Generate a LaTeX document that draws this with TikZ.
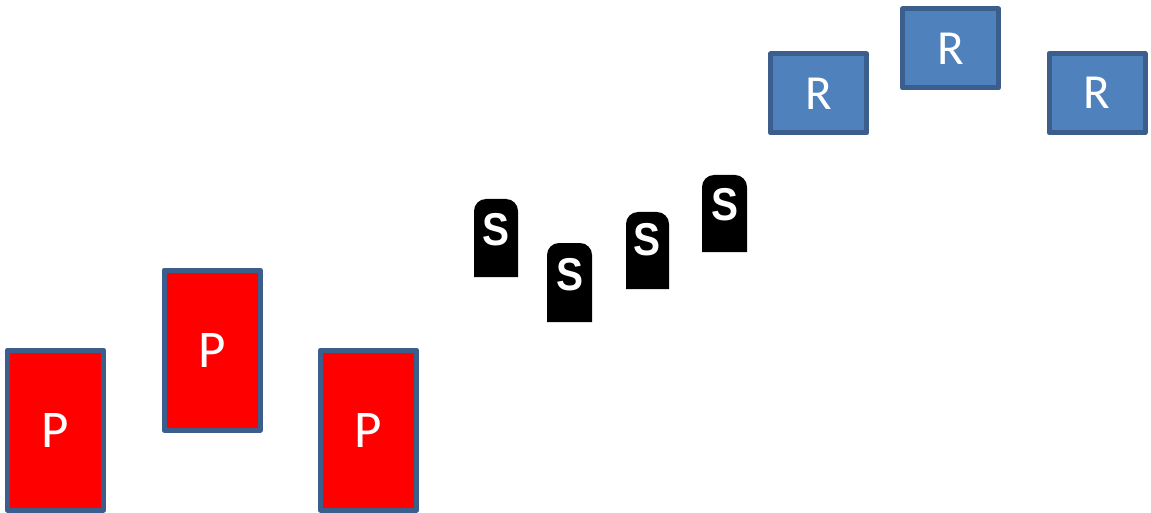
\documentclass[tikz,border=0pt]{standalone}
\usepackage{fontspec}
\setmainfont{Carlito}
\newfontfamily\stonefont{Liberation Sans}
\definecolor{pfill}{HTML}{FF0000}
\definecolor{rfill}{HTML}{4F81BD}
\definecolor{edge}{HTML}{3B5E8C}
\begin{document}
\begin{tikzpicture}[x=1pt,y=1pt,
  pbox/.style={draw=edge, line width=5pt, fill=pfill, line join=round, minimum width=96pt, minimum height=160pt, inner sep=0pt, text=white, font=\fontsize{53}{53}\selectfont},
  rbox/.style={draw=edge, line width=5pt, fill=rfill, line join=round, minimum width=96pt, minimum height=79pt, inner sep=0pt, text=white, font=\fontsize{49}{49}\selectfont},
  stext/.style={text=white, inner sep=0pt, xscale=0.88, font=\stonefont\bfseries\fontsize{46}{46}\selectfont},
  stone/.style={fill=black}
]
\useasboundingbox (0,0) rectangle (1151,-513);
% P boxes
\node[pbox] (p1) at (55.5,-430) {P};
\node[pbox] (p2) at (212,-350) {P};
\node[pbox] (p3) at (368.5,-430) {P};
% R boxes
\node[rbox] (r1) at (818.5,-93.5) {R};
\node[rbox] (r2) at (950.5,-48.5) {R};
\node[rbox] (r3) at (1097,-93) {R};
% stones
\newcommand\stoneshape[4]{% x1 x2 ytop ybottom
  \fill[stone] (#1,-#4) -- (#1,-#3-12) arc[start angle=180,end angle=90,radius=12] -- (#2-12,-#3) arc[start angle=90,end angle=0,radius=12] -- (#2,-#4) -- cycle;}
\stoneshape{474}{518}{199}{277}
\stoneshape{547}{592}{243}{322}
\stoneshape{626}{669}{212}{289}
\stoneshape{702}{747}{175}{252}
\node[stext] (s1) at (496,-230) {S};
\node[stext] (s2) at (569.5,-275) {S};
\node[stext] (s3) at (647,-240) {S};
\node[stext] (s4) at (724.5,-204.5) {S};
\end{tikzpicture}
\end{document}
